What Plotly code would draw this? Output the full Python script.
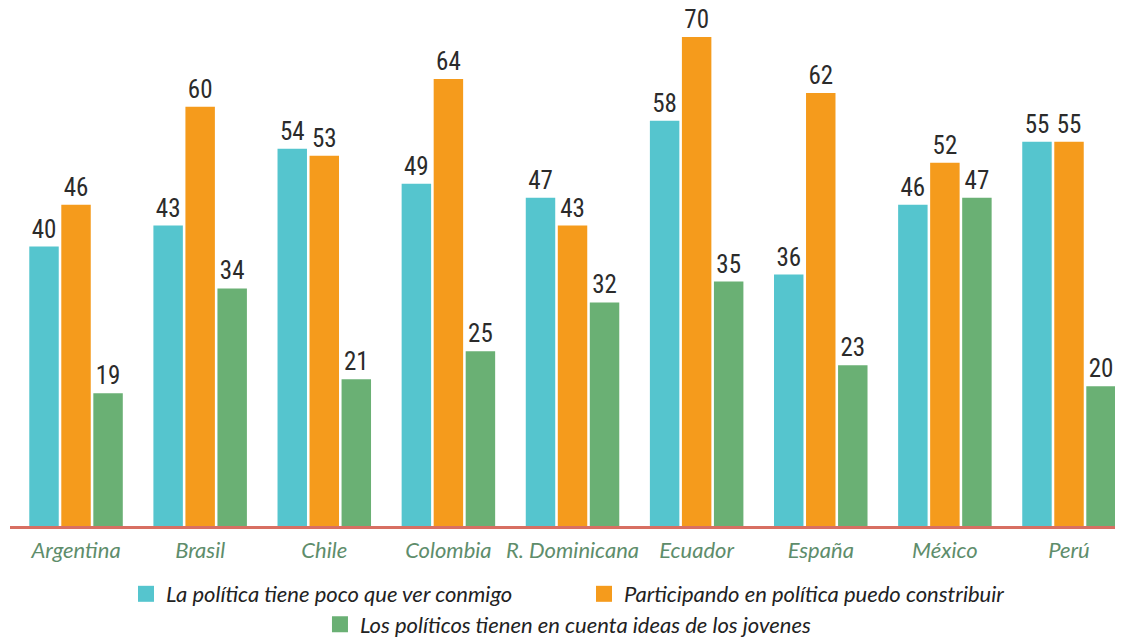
import plotly.graph_objects as go

countries = ["Argentina", "Brasil", "Chile", "Colombia", "R. Dominicana",
             "Ecuador", "España", "México", "Perú"]
poco_que_ver = [40, 43, 54, 49, 47, 58, 36, 46, 55]
puedo_contribuir = [46, 60, 53, 64, 43, 70, 62, 52, 55]
tienen_en_cuenta = [19, 34, 21, 25, 32, 35, 23, 47, 20]

series = [
    ("La política tiene poco que ver conmigo", poco_que_ver, "#55C5CE", "legend"),
    ("Participando en política puedo constribuir", puedo_contribuir, "#F59B1C", "legend2"),
    ("Los políticos tienen en cuenta ideas de los jovenes", tienen_en_cuenta, "#6AB074", "legend3"),
]

label_font = dict(family="Liberation Sans Narrow, Roboto Condensed, Roboto, sans-serif",
                  size=25, color="#2B2B2B")

fig = go.Figure()
for name, vals, color, leg in series:
    fig.add_trace(go.Bar(
        x=countries, y=vals, name=name,
        marker_color=color, marker_line_width=0,
        text=vals, textposition="outside", textfont=label_font,
        cliponaxis=False, showlegend=False,
    ))
    # proxy trace so the legend gets a bigger square
    fig.add_trace(go.Scatter(
        x=[None], y=[None], mode="markers", name=name,
        marker=dict(symbol="square", size=16, color=color),
        legend=leg,
    ))

legend_font = dict(family="Lato, sans-serif", size=22, color="#222222", style="italic")
leg_common = dict(orientation="h", xanchor="left", yanchor="middle",
                  font=legend_font, bgcolor="rgba(0,0,0,0)", itemwidth=30)

# page body has an 8px margin, so the plot area is shifted to compensate
fig.update_layout(
    width=1123, height=637,
    margin=dict(l=2, r=8, t=0, b=119, autoexpand=False),
    paper_bgcolor="white", plot_bgcolor="white",
    barmode="group", bargap=0.226, bargroupgap=0.08,
    xaxis=dict(
        range=[-0.532, 8.435],
        showline=True, linecolor="#D86F62", linewidth=3,
        showgrid=False, zeroline=False, ticks="",
        ticklabelstandoff=3,
        tickfont=dict(family="Lato, sans-serif", size=22, color="#5E8D6B", style="italic"),
    ),
    yaxis=dict(range=[0, 74.15], visible=False, showgrid=False, zeroline=False),
    legend=dict(x=0.1042, y=-0.1313, **leg_common),
    legend2=dict(x=0.5157, y=-0.1313, **leg_common),
    legend3=dict(x=0.2785, y=-0.190, **leg_common),
)

fig.write_html("out.html")
